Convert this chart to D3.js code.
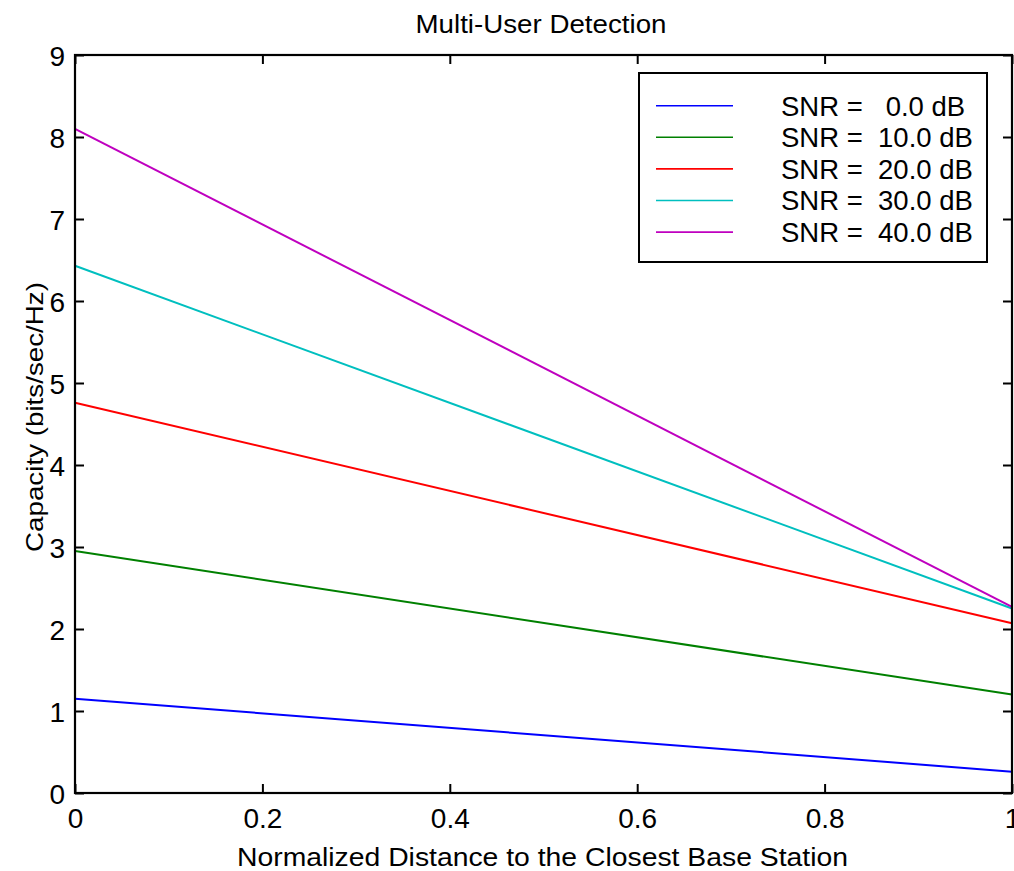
<!DOCTYPE html>
<html>
<head>
<meta charset="utf-8">
<script src="https://cdn.jsdelivr.net/npm/d3@7"></script>
<style>
  html, body { margin: 0; padding: 0; background: #fff; }
  svg { display: block; font-family: "Liberation Sans", Arial, sans-serif; }
  text { white-space: pre; }
</style>
</head>
<body>
<svg id="chart" width="1014" height="871"></svg>
<script>
// Normalized distance (x) and capacity per SNR level (bits/sec/Hz)
const distance = [0, 1];
const snrLabels = ["SNR =   0.0 dB", "SNR =  10.0 dB", "SNR =  20.0 dB", "SNR =  30.0 dB", "SNR =  40.0 dB"];
const snr0  = [1.15, 0.26];
const snr10 = [2.95, 1.20];
const snr20 = [4.76, 2.07];
const snr30 = [6.43, 2.25];
const snr40 = [8.10, 2.27];
const seriesColors = ["#0000ff", "#008000", "#ff0000", "#00bfbf", "#bf00bf"];
const xTicks = [0, 0.2, 0.4, 0.6, 0.8, 1];
const yTicks = [0, 1, 2, 3, 4, 5, 6, 7, 8, 9];

const series = [snr0, snr10, snr20, snr30, snr40].map((vals, i) => ({
  label: snrLabels[i],
  color: seriesColors[i],
  points: distance.map((d, j) => [d, vals[j]])
}));

const svg = d3.select("#chart");
const plot = { left: 75, right: 1012, top: 55, bottom: 793 };

const x = d3.scaleLinear().domain([0, 1]).range([plot.left, plot.right]);
const y = d3.scaleLinear().domain([0, 9]).range([plot.bottom, plot.top]);

const tickLen = 9;
const fmtX = d => d === 0 || d === 1 ? String(d) : d3.format(".1f")(d);

// Bottom axis (labels) and mirrored top ticks
const axisB = svg.append("g").attr("transform", `translate(0,${plot.bottom})`)
  .call(d3.axisBottom(x).tickValues(xTicks).tickFormat(fmtX).tickSizeInner(-tickLen).tickSizeOuter(0).tickPadding(15));
const axisT = svg.append("g").attr("transform", `translate(0,${plot.top})`)
  .call(d3.axisTop(x).tickValues(xTicks).tickFormat("").tickSizeInner(-tickLen).tickSizeOuter(0));
const axisL = svg.append("g").attr("transform", `translate(${plot.left},0)`)
  .call(d3.axisLeft(y).tickValues(yTicks).tickFormat(d3.format("d")).tickSizeInner(-tickLen).tickSizeOuter(0).tickPadding(10));
const axisR = svg.append("g").attr("transform", `translate(${plot.right},0)`)
  .call(d3.axisRight(y).tickValues(yTicks).tickFormat("").tickSizeInner(-tickLen).tickSizeOuter(0));

[axisB, axisT, axisL, axisR].forEach(g => {
  g.select(".domain").remove();
  g.selectAll(".tick line").attr("stroke", "#000").attr("stroke-width", 2);
  g.selectAll(".tick text").attr("fill", "#000").attr("font-size", 28)
    .attr("font-family", "Liberation Sans, Arial, sans-serif");
});
axisL.selectAll(".tick text").attr("dy", "0.36em");
axisB.selectAll(".tick text").attr("dy", "0.72em");

// Series lines
const line = d3.line().x(d => x(d[0])).y(d => y(d[1]));
svg.append("g").selectAll("path").data(series).join("path")
  .attr("d", d => line(d.points))
  .attr("fill", "none")
  .attr("stroke", d => d.color)
  .attr("stroke-width", 2);

// Frame
svg.append("rect")
  .attr("x", plot.left).attr("y", plot.top)
  .attr("width", plot.right - plot.left).attr("height", plot.bottom - plot.top)
  .attr("fill", "none").attr("stroke", "#000").attr("stroke-width", 2.2);

// Title and axis labels
svg.append("text").attr("x", 541).attr("y", 33).attr("text-anchor", "middle")
  .attr("font-size", 25).attr("textLength", 251).attr("lengthAdjust", "spacingAndGlyphs")
  .text("Multi-User Detection");

svg.append("text").attr("x", 542.5).attr("y", 866).attr("text-anchor", "middle")
  .attr("font-size", 26).attr("textLength", 611).attr("lengthAdjust", "spacingAndGlyphs")
  .text("Normalized Distance to the Closest Base Station");

svg.append("text").attr("transform", "translate(43,417) rotate(-90)").attr("text-anchor", "middle")
  .attr("font-size", 24).attr("textLength", 270).attr("lengthAdjust", "spacingAndGlyphs")
  .text("Capacity (bits/sec/Hz)");

// Legend
const legend = svg.append("g");
legend.append("rect")
  .attr("x", 639).attr("y", 73).attr("width", 348).attr("height", 189)
  .attr("fill", "#fff").attr("stroke", "#000").attr("stroke-width", 2);
const rowY = i => 105.7 + i * 31.6;
const rows = legend.selectAll("g.row").data(series).join("g").attr("class", "row");
rows.append("line")
  .attr("x1", 656).attr("x2", 733)
  .attr("y1", (d, i) => rowY(i)).attr("y2", (d, i) => rowY(i))
  .attr("stroke", d => d.color).attr("stroke-width", 1.6);
rows.append("text")
  .attr("x", 781).attr("y", (d, i) => rowY(i)).attr("dy", "0.36em")
  .attr("xml:space", "preserve")
  .attr("font-size", 27.5)
  .text(d => d.label);
</script>
</body>
</html>
